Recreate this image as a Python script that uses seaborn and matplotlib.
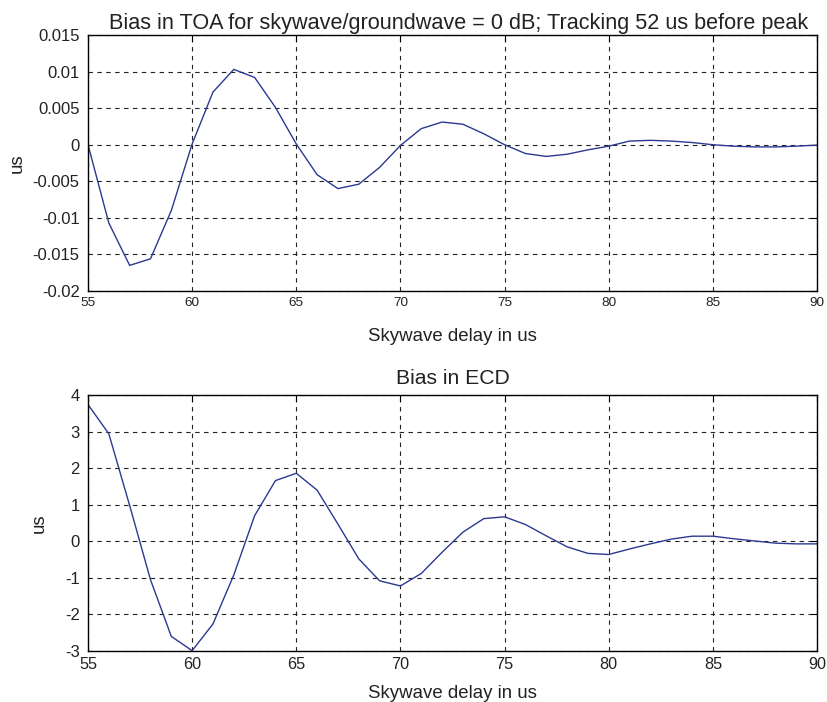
import numpy as np
import pandas as pd
import matplotlib
matplotlib.use("Agg")
import matplotlib.pyplot as plt
import seaborn as sns
from matplotlib.ticker import FuncFormatter

# skywave delay (us)
delay = list(range(55, 91))

# bias in TOA (us)
toa_bias = [0.0, -0.0107, -0.0165, -0.0156, -0.0090, 0.0001, 0.0072, 0.0103, 0.0092, 0.0051,
            0.0001, -0.0041, -0.0060, -0.0054, -0.0031, -0.0001, 0.0022, 0.0031, 0.0028, 0.0015,
            0.0, -0.0012, -0.0016, -0.0013, -0.0007, -0.0002, 0.0005, 0.0006, 0.0005, 0.0003,
            0.0, -0.0002, -0.0003, -0.0003, -0.0002, -0.00005]

# bias in ECD (us)
ecd_bias = [3.74, 2.94, 0.98, -1.05, -2.60, -2.99, -2.26, -0.92, 0.70, 1.66,
            1.86, 1.40, 0.47, -0.48, -1.08, -1.22, -0.88, -0.30, 0.25, 0.62,
            0.67, 0.46, 0.15, -0.15, -0.33, -0.36, -0.21, -0.07, 0.06, 0.14,
            0.14, 0.07, 0.01, -0.05, -0.07, -0.07]

df = pd.DataFrame({"delay": delay, "toa": toa_bias, "ecd": ecd_bias})

sns.set_theme(style="white")
plt.rcParams["font.family"] = ["Liberation Sans", "DejaVu Sans"]

line_color = "#2b3990"
text_color = "#222222"
fig = plt.figure(figsize=(8.27, 7.02), dpi=100)
ax1 = fig.add_axes([0.1064, 0.5855, 0.8815, 0.3646])
ax2 = fig.add_axes([0.1064, 0.0726, 0.8815, 0.3647])


def fmt(v, pos):
    s = "%g" % round(v, 6)
    return "0" if s in ("0", "-0") else s


def style_axes(ax, yticks, xsize):
    ax.set_xlim(55, 90)
    ax.set_xticks(range(55, 91, 5))
    ax.set_yticks(yticks)
    ax.set_ylim(yticks[0], yticks[-1])
    ax.yaxis.set_major_formatter(FuncFormatter(fmt))
    ax.grid(True, color=text_color, linewidth=0.8, linestyle=(0, (4, 4)))
    ax.tick_params(direction="in", length=4, width=0.8, color="black",
                   top=True, right=True, labelcolor=text_color)
    ax.tick_params(axis="x", labelsize=xsize, pad=4)
    ax.tick_params(axis="y", labelsize=12, pad=6)
    for sp in ax.spines.values():
        sp.set_visible(True)
        sp.set_color("black")
        sp.set_linewidth(1.0)


sns.lineplot(data=df, x="delay", y="toa", ax=ax1, color=line_color, linewidth=1.0)
style_axes(ax1, [-0.02, -0.015, -0.01, -0.005, 0, 0.005, 0.01, 0.015], 9.7)
ax1.set_title("Bias in TOA for skywave/groundwave = 0 dB; Tracking 52 us before peak",
              fontsize=15.6, color=text_color, pad=4, x=0.508)
ax1.set_xlabel("Skywave delay in us", fontsize=13.4, color=text_color, labelpad=14)
ax1.set_ylabel("us", fontsize=13.4, color=text_color, labelpad=5)

sns.lineplot(data=df, x="delay", y="ecd", ax=ax2, color=line_color, linewidth=1.0)
style_axes(ax2, [-3, -2, -1, 0, 1, 2, 3, 4], 11.7)
ax2.set_title("Bias in ECD", fontsize=15.2, color=text_color, pad=8)
ax2.set_xlabel("Skywave delay in us", fontsize=13.4, color=text_color, labelpad=10)
ax2.set_ylabel("us", fontsize=13.4, color=text_color, labelpad=12)

fig.savefig("out.png", dpi=100)
